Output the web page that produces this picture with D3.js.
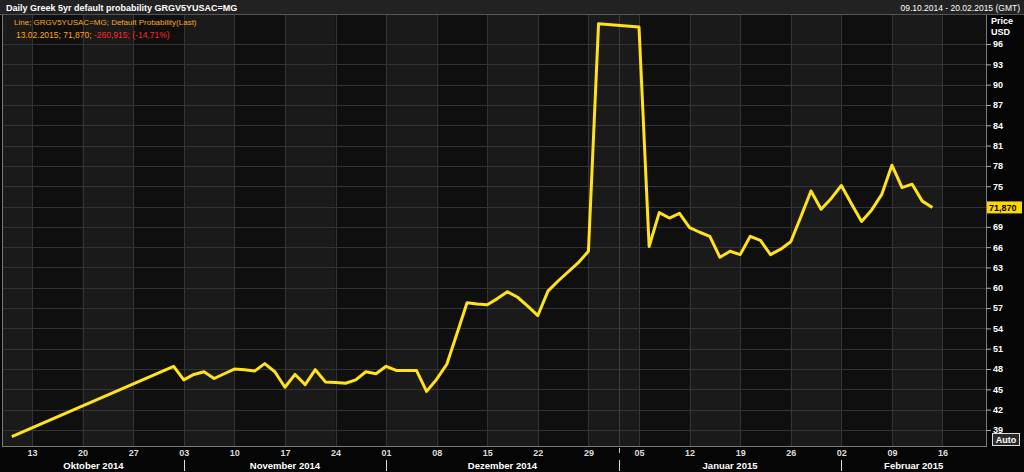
<!DOCTYPE html>
<html>
<head>
<meta charset="utf-8">
<script src="https://cdn.jsdelivr.net/npm/d3@7"></script>
<style>
  body { margin: 0; background: #000; }
  text { font-family: "Liberation Sans", Arial, sans-serif; }
</style>
</head>
<body>
<div class="container"></div>
<script>
// daily values, weekdays only on the x axis
var dates = ["2014-10-09","2014-10-31","2014-11-03","2014-11-04","2014-11-05","2014-11-06","2014-11-07",
  "2014-11-10","2014-11-11","2014-11-12","2014-11-13","2014-11-14","2014-11-17","2014-11-18","2014-11-19",
  "2014-11-20","2014-11-21","2014-11-24","2014-11-25","2014-11-26","2014-11-27","2014-11-28","2014-12-01",
  "2014-12-02","2014-12-03","2014-12-04","2014-12-05","2014-12-08","2014-12-09","2014-12-10","2014-12-11",
  "2014-12-12","2014-12-15","2014-12-16","2014-12-17","2014-12-18","2014-12-19","2014-12-22","2014-12-23",
  "2014-12-24","2014-12-26","2014-12-29","2014-12-30","2015-01-05","2015-01-06","2015-01-07","2015-01-08",
  "2015-01-09","2015-01-12","2015-01-13","2015-01-14","2015-01-15","2015-01-16","2015-01-19","2015-01-20",
  "2015-01-21","2015-01-22","2015-01-23","2015-01-26","2015-01-27","2015-01-28","2015-01-29","2015-01-30",
  "2015-02-02","2015-02-03","2015-02-04","2015-02-05","2015-02-06","2015-02-09","2015-02-10","2015-02-11",
  "2015-02-12","2015-02-13"];
var values = [38.0,48.4,46.4,47.2,47.6,46.6,47.3,
  48.0,47.9,47.7,48.8,47.6,45.3,47.2,45.7,
  47.9,46.1,46.0,45.9,46.4,47.6,47.3,48.4,
  47.8,47.8,47.8,44.7,46.5,48.7,53.2,57.8,
  57.6,57.5,58.4,59.4,58.6,57.3,55.9,59.5,
  61.0,63.7,65.4,99.0,98.5,66.1,71.1,70.3,
  71.0,68.9,68.2,67.6,64.5,65.4,64.9,67.6,
  67.0,64.9,65.7,66.8,70.5,74.3,71.6,73.2,
  75.1,72.4,69.8,71.5,73.8,78.1,74.8,75.3,
  72.8,71.87];
var yTicks = [39,42,45,48,51,54,57,60,63,66,69,75,78,81,84,87,90,93,96];
var monthNames = ["Oktober 2014","November 2014","Dezember 2014","Januar 2015","Februar 2015"];
var lastLabel = "71,870";

var w = 1024, h = 472;
var pL = 3, pR = 986, pT = 15, pB = 446;

var parse = d3.timeParse("%Y-%m-%d");
var base = parse("2014-10-09");
var end = parse("2015-02-21");
function wd(d) {
  return d3.timeDays(base, d).filter(function(x){ return x.getDay() % 6 !== 0; }).length;
}
function firstWeekday(d) {
  while (d.getDay() % 6 === 0) d = d3.timeDay.offset(d, 1);
  return d;
}

var svg = d3.select(".container").append("svg")
  .attr("width", w).attr("height", h)
  .style("display", "block");

svg.append("rect").attr("width", w).attr("height", h).attr("fill", "#050505");

var x = d3.scaleLinear().domain([-0.87, 96.3]).range([pL, pR]);
var y = d3.scaleLinear().domain([36.63, 100.29]).range([pB, pT]);

var mondays = d3.timeMonday.range(parse("2014-10-06"), end);
var monthStarts = d3.timeMonth.range(parse("2014-11-01"), end).map(firstWeekday);
function monIdx(d) { return wd(d3.timeDay.offset(d, 7)) - 5; }

// plot background with alternating week bands
svg.append("rect").attr("x", pL).attr("y", pT)
  .attr("width", pR - pL).attr("height", pB - pT).attr("fill", "#0f0f0f");
svg.append("clipPath").attr("id", "clip").append("rect")
  .attr("x", pL).attr("y", pT).attr("width", pR - pL).attr("height", pB - pT);
var plot = svg.append("g").attr("clip-path", "url(#clip)");

plot.selectAll("rect.band")
  .data(mondays.filter(function(d, i){ return i % 2 === 0; }))
  .enter().append("rect")
  .attr("x", function(d){ return x(monIdx(d)); })
  .attr("y", pT)
  .attr("width", x(5) - x(0))
  .attr("height", pB - pT)
  .attr("fill", "#1a1a1a");

// grid
plot.selectAll("line.hg").data(yTicks.concat([72])).enter().append("line")
  .attr("x1", pL).attr("x2", pR)
  .attr("y1", function(d){ return Math.round(y(d)) + 0.5; }).attr("y2", function(d){ return Math.round(y(d)) + 0.5; })
  .attr("stroke", "#343434");
plot.selectAll("line.vg").data(mondays.slice(1)).enter().append("line")
  .attr("x1", function(d){ return Math.round(x(wd(d))) + 0.5; })
  .attr("x2", function(d){ return Math.round(x(wd(d))) + 0.5; })
  .attr("y1", pT).attr("y2", pB)
  .attr("stroke", "#343434");
var yearStart = firstWeekday(parse("2015-01-01"));
plot.append("line")
  .attr("x1", Math.round(x(wd(yearStart))) + 0.5).attr("x2", Math.round(x(wd(yearStart))) + 0.5)
  .attr("y1", pT).attr("y2", pB)
  .attr("stroke", "#3c3c3c");

// series
var pts = dates.map(function(d, i){ return [wd(parse(d)), values[i]]; });
var line = d3.line().x(function(d){ return x(d[0]); }).y(function(d){ return y(d[1]); });
plot.append("path").datum(pts)
  .attr("d", line)
  .attr("fill", "none")
  .attr("stroke", "#ffe21a")
  .attr("stroke-width", 3)
  .attr("stroke-linejoin", "round");

// frame
svg.append("rect").attr("x", pL - 0.5).attr("y", pT - 0.5)
  .attr("width", pR - pL + 1).attr("height", pB - pT + 1)
  .attr("fill", "none").attr("stroke", "#7a7a7a");

// title bar
svg.append("rect").attr("x", 0).attr("y", 0).attr("width", w).attr("height", 14).attr("fill", "#222");
svg.append("line").attr("x1", 0).attr("x2", w).attr("y1", 14.5).attr("y2", 14.5).attr("stroke", "#555");
svg.append("text").attr("x", 6).attr("y", 10.5)
  .attr("fill", "#fff").attr("font-size", "9px").attr("font-weight", "bold")
  .text("Daily Greek 5yr default probability GRGV5YUSAC=MG");
svg.append("text").attr("x", 1020).attr("y", 10.5).attr("text-anchor", "end")
  .attr("fill", "#fff").attr("font-size", "8.5px")
  .text("09.10.2014 - 20.02.2015 (GMT)");

// legend
svg.append("text").attr("x", 14).attr("y", 25)
  .attr("fill", "#ffa51f").attr("font-size", "8px")
  .text("Line; GRGV5YUSAC=MG; Default Probability(Last)");
var l2 = svg.append("text").attr("x", 16).attr("y", 38).attr("font-size", "8.5px");
l2.append("tspan").attr("fill", "#ffa51f").text("13.02.2015; 71,870; ");
l2.append("tspan").attr("fill", "#ff2a2a").text("-260,915; (-14,71%)");

// right axis
var yAxis = d3.axisRight(y).tickValues(yTicks).tickSize(5).tickPadding(2);
var ya = svg.append("g").attr("transform", "translate(" + pR + ",0)").call(yAxis);
ya.select(".domain").remove();
ya.selectAll("line").attr("stroke", "#aaa");
ya.selectAll("text").attr("fill", "#fff").attr("font-size", "9px").attr("font-weight", "bold")
  .style("font-family", "Liberation Sans, Arial, sans-serif");
svg.append("text").attr("x", 991).attr("y", 24).attr("fill", "#fff")
  .attr("font-size", "9px").attr("font-weight", "bold").text("Price");
svg.append("text").attr("x", 991).attr("y", 35).attr("fill", "#fff")
  .attr("font-size", "9px").attr("font-weight", "bold").text("USD");

// last value label
var ly = y(values[values.length - 1]);
svg.append("rect").attr("x", 987).attr("y", ly - 6).attr("width", 35).attr("height", 12).attr("fill", "#ffd800");
svg.append("text").attr("x", 989).attr("y", ly + 3.5).attr("fill", "#000")
  .attr("font-size", "9px").attr("font-weight", "bold").text(lastLabel);

// Auto box
svg.append("rect").attr("x", 992.5).attr("y", 433.5).attr("width", 27).attr("height", 12)
  .attr("fill", "#2a2a2a").attr("stroke", "#ddd");
svg.append("text").attr("x", 1006).attr("y", 443).attr("text-anchor", "middle").attr("fill", "#fff")
  .attr("font-size", "9px").attr("font-weight", "bold").text("Auto");

// bottom axis: weekly labels
var xAxis = d3.axisBottom(x).tickValues(mondays.slice(1).map(wd))
  .tickFormat(function(d, i){ return d3.timeFormat("%d")(mondays[i + 1]); })
  .tickSize(0).tickPadding(4);
var xa = svg.append("g").attr("transform", "translate(0," + pB + ")").call(xAxis);
xa.select(".domain").remove();
xa.selectAll("text").attr("fill", "#ddd").attr("font-size", "9px").attr("font-weight", "bold")
  .style("font-family", "Liberation Sans, Arial, sans-serif");

svg.append("line")
  .attr("x1", Math.round(x(wd(yearStart))) + 0.5).attr("x2", Math.round(x(wd(yearStart))) + 0.5)
  .attr("y1", 448).attr("y2", 453).attr("stroke", "#ccc");

// months
var bounds = [pL].concat(monthStarts.map(function(d){ return x(wd(d)); })).concat([pR]);
svg.selectAll("line.ms").data(monthStarts).enter().append("line")
  .attr("x1", function(d){ return Math.round(x(wd(d))) + 0.5; })
  .attr("x2", function(d){ return Math.round(x(wd(d))) + 0.5; })
  .attr("y1", 460).attr("y2", 471).attr("stroke", "#ddd");
svg.selectAll("text.mn").data(monthNames).enter().append("text")
  .attr("x", function(d, i){ return (bounds[i] + bounds[i + 1]) / 2; })
  .attr("y", 469)
  .attr("text-anchor", "middle")
  .attr("fill", "#fff").attr("font-size", "9.5px").attr("font-weight", "bold")
  .text(function(d){ return d; });
</script>
</body>
</html>
